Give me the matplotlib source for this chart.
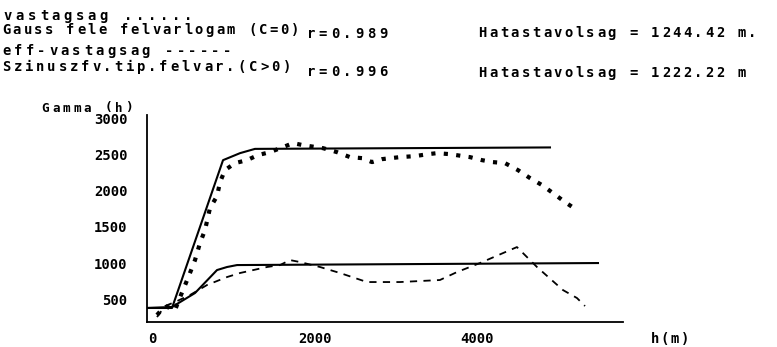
import matplotlib
matplotlib.use("Agg")
import matplotlib.pyplot as plt

# tapasztalati variogram (vastagsag), pontozott
vast_h = [59, 158, 281, 379, 441, 527, 588, 650, 711, 798, 835, 896, 1019, 1167,
          1302, 1450, 1610, 1733, 1856, 2103, 2275, 2435, 2583, 2706, 2829, 3050,
          3235, 3395, 3506, 3666, 3826, 3912, 4060, 4195, 4343, 4503, 4651, 4799,
          4934, 5082, 5229]
vast_g = [281, 405, 350, 627, 793, 1041, 1276, 1456, 1760, 1926, 2120, 2286, 2383,
          2424, 2494, 2535, 2604, 2660, 2632, 2590, 2535, 2466, 2452, 2397, 2438,
          2466, 2480, 2507, 2521, 2507, 2480, 2466, 2424, 2397, 2383, 2286, 2176,
          2079, 1968, 1844, 1733]

# tapasztalati variogram (eff-vastagsag), szaggatott
eff_h = [59, 158, 281, 465, 675, 921, 1081, 1413, 1573, 1696, 1820, 2066, 2312,
         2644, 3050, 3542, 3752, 4035, 4490, 4737, 5057, 5229, 5328]
eff_g = [253, 405, 461, 557, 696, 806, 862, 945, 972, 1041, 1014, 945, 862,
         737, 737, 765, 875, 1000, 1221, 945, 626, 516, 405]

# illesztett modellek
gauss_h = [-64, 244, 872, 1081, 1265, 4897]
gauss_g = [378, 378, 2424, 2521, 2580, 2600]
sinus_h = [-64, 244, 527, 798, 921, 1044, 5488]
sinus_g = [378, 392, 585, 903, 945, 972, 1000]

x_ticks = [0, 2000, 4000]
y_ticks = [500, 1000, 1500, 2000, 2500, 3000]

W, H = 777, 347
MONO = "DejaVu Sans Mono"


def spaced(fig, x0, y0, s, pitch, size=10):
    # plotter-szeru betukozes: minden karakter kulon, fix lepeskozzel
    for i, ch in enumerate(s):
        if ch == " ":
            continue
        fig.text((x0 + pitch / 2 + i * pitch) / W, 1 - y0 / H, ch,
                 ha="center", va="center", fontsize=size,
                 fontweight="bold", family=MONO)


fig = plt.figure(figsize=(W / 100, H / 100), dpi=100)
ax = fig.add_axes([147 / W, 1 - 322 / H, (623 - 147) / W, (322 - 115) / H])

ax.plot(vast_h, vast_g, color="black", lw=3, linestyle=(0, (1, 2)),
        dash_capstyle="butt")
ax.plot(eff_h, eff_g, color="black", lw=1.3, linestyle=(0, (4, 3.5)))
ax.plot(gauss_h, gauss_g, color="black", lw=1.5)
ax.plot(sinus_h, sinus_g, color="black", lw=1.5)

ax.set_xlim(-64, 5796)
ax.set_ylim(184, 3049)
ax.set_xticks(x_ticks)
ax.set_yticks(y_ticks)
ax.set_xticklabels([str(v) for v in x_ticks], family=MONO, fontweight="bold",
                   fontsize=10)
ax.set_yticklabels([str(v) for v in y_ticks], family=MONO, fontweight="bold",
                   fontsize=10)
ax.tick_params(length=0)
ax.tick_params(axis="y", pad=14)
ax.tick_params(axis="x", pad=7)
for side in ("top", "right"):
    ax.spines[side].set_visible(False)
for side in ("left", "bottom"):
    ax.spines[side].set_linewidth(1.3)

spaced(fig, 40, 108, "Gamma (h)", 10.5, size=9)
spaced(fig, 650, 339, "h(m)", 10)

spaced(fig, 2, 16, "vastagsag ......", 12)
spaced(fig, 1, 30, "Gauss fele felvarlogam (C=0)", 10.7)
spaced(fig, 305, 34, "r=0.989", 12)
spaced(fig, 477, 33, "Hatastavolsag = 1244.42 m.", 10.8)
spaced(fig, 1, 51, "eff-vastagsag ------", 11.6)
spaced(fig, 1, 67, "Szinuszfv.tip.felvar.(C>0)", 11.2)
spaced(fig, 305, 72, "r=0.996", 12)
spaced(fig, 477, 73, "Hatastavolsag = 1222.22 m", 10.8)

fig.savefig("out.png", dpi=100, facecolor="white")
